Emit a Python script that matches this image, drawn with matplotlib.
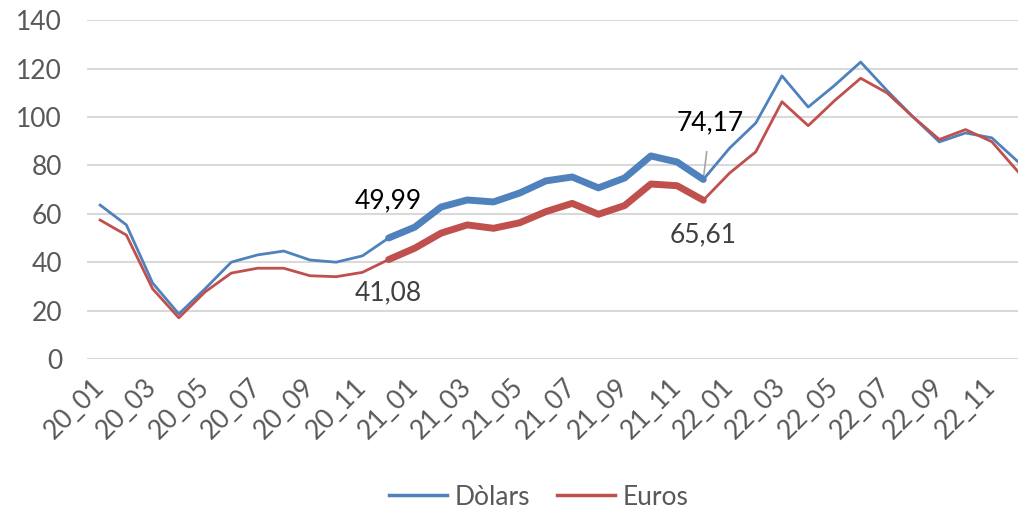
import matplotlib.pyplot as plt
from matplotlib.lines import Line2D

months = [
    "20_01", "20_02", "20_03", "20_04", "20_05", "20_06",
    "20_07", "20_08", "20_09", "20_10", "20_11", "20_12",
    "21_01", "21_02", "21_03", "21_04", "21_05", "21_06",
    "21_07", "21_08", "21_09", "21_10", "21_11", "21_12",
    "22_01", "22_02", "22_03", "22_04", "22_05", "22_06",
    "22_07", "22_08", "22_09", "22_10", "22_11", "22_12",
]

dolars = [
    63.6, 55.4, 31.4, 18.6, 29.0, 40.0, 43.0, 44.6, 40.9, 40.0, 42.6, 49.99,
    54.5, 62.8, 65.7, 64.9, 68.6, 73.6, 75.2, 70.7, 74.8, 83.9, 81.4, 74.17,
    87.1, 97.5, 117.0, 104.1, 113.0, 122.7, 111.0, 100.0, 89.7, 93.4, 91.4, 81.5,
]

euros = [
    57.4, 51.2, 29.0, 17.0, 27.7, 35.5, 37.5, 37.5, 34.4, 34.0, 35.8, 41.08,
    45.8, 52.0, 55.4, 54.0, 56.3, 60.9, 64.3, 59.8, 63.4, 72.3, 71.6, 65.61,
    76.8, 85.6, 106.3, 96.4, 106.7, 116.0, 110.0, 100.0, 90.7, 94.8, 89.8, 77.4,
]

hl_start, hl_end = 11, 23

blue = "#4F81BD"
red = "#C0504D"
grey_txt = "#595959"

plt.rcParams["font.family"] = ["Lato", "DejaVu Sans"]

fig = plt.figure(figsize=(10.18, 5.11), dpi=100)
ax = fig.add_axes([0.0855, 0.2975, 0.9145, 0.663])

x = list(range(len(months)))

# thin full lines
ax.plot(x, dolars, color=blue, lw=2.0, zorder=3)
ax.plot(x, euros, color=red, lw=2.0, zorder=3)

# highlighted stretch
xs = x[hl_start:hl_end + 1]
ax.plot(xs, dolars[hl_start:hl_end + 1], color=blue, lw=5, solid_capstyle="round",
        solid_joinstyle="round", zorder=4)
ax.plot(xs, euros[hl_start:hl_end + 1], color=red, lw=5, solid_capstyle="round",
        solid_joinstyle="round", zorder=4)

fmt = lambda v: f"{v:.2f}".replace(".", ",")

ax.annotate(fmt(dolars[hl_start]), (hl_start, dolars[hl_start]),
            xytext=(0, 27), textcoords="offset points", ha="center", va="center",
            fontsize=19, color="black")
ax.annotate(fmt(euros[hl_start]), (hl_start, euros[hl_start]),
            xytext=(0, -24), textcoords="offset points", ha="center", va="center",
            fontsize=19, color="#404040")
ax.annotate(fmt(dolars[hl_end]), (hl_end, dolars[hl_end]),
            xytext=(5, 41), textcoords="offset points", ha="center", va="center",
            fontsize=19, color="black",
            arrowprops=dict(arrowstyle="-", color="#A6A6A6", lw=1.2,
                            shrinkA=10, shrinkB=1))
ax.annotate(fmt(euros[hl_end]), (hl_end, euros[hl_end]),
            xytext=(0, -25), textcoords="offset points", ha="center", va="center",
            fontsize=19, color="#404040")

ax.set_xlim(-0.5, 35)
ax.set_ylim(0, 140)
ax.set_yticks(range(0, 141, 20))
ax.set_xticks(x[::2])
ax.set_xticklabels(months[::2], rotation=45, ha="right", va="center",
                   rotation_mode="anchor")
ax.tick_params(axis="both", length=0, labelsize=19, labelcolor=grey_txt)
ax.tick_params(axis="x", pad=17)
ax.tick_params(axis="y", pad=18)

ax.grid(axis="y", color="#D9D9D9", lw=1.5)
ax.set_axisbelow(True)
for s in ax.spines.values():
    s.set_visible(False)

handles = [Line2D([], [], color=blue, lw=2.5), Line2D([], [], color=red, lw=2.5)]
fig.legend(handles, ["Dòlars", "Euros"], loc="center", bbox_to_anchor=(0.529, 0.027),
           ncol=2, frameon=False, fontsize=19, labelcolor=grey_txt,
           handlelength=2.2, handletextpad=0.3, columnspacing=1.0)

fig.savefig("out.png", dpi=100)
